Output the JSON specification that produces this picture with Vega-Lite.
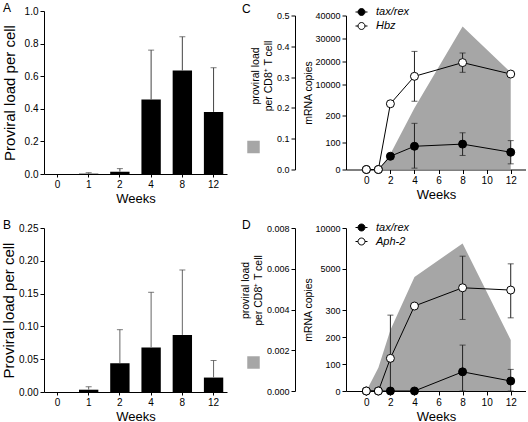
{
  "$schema": "https://vega.github.io/schema/vega-lite/v6.json",
  "padding": {"left": 1, "top": 1, "right": 0, "bottom": 0},
  "background": "white",
  "config": {
    "font": "Liberation Sans",
    "view": {"stroke": null},
    "axis": {"grid": false, "domainColor": "black", "tickColor": "black", "labelColor": "black", "titleColor": "black", "titleFontWeight": "normal", "labelFontSize": 10, "tickSize": 4, "labelPadding": 2, "domainWidth": 1, "tickWidth": 1, "labelOverlap": false, "labelFlush": false},
    "title": {"fontWeight": "normal", "fontSize": 12, "anchor": "start", "frame": "group", "baseline": "alphabetic", "color": "black"},
    "legend": {"padding": 0}
  },
  "resolve": {"scale": {"fill": "independent", "color": "independent"}, "legend": {"fill": "independent", "color": "independent"}},
  "bounds": "flush",
  "center": true,
  "spacing": {"row": 54, "column": 119},
  "columns": 2,
  "concat": [
        {
          "width": 183, "height": 163,
          "title": {"text": "A", "offset": -8.7, "dx": -41},
          "data": {"values": [
            {"week": 0, "load": 0, "err": null},
            {"week": 1, "load": 0.002, "err": 0.008},
            {"week": 2, "load": 0.014, "err": 0.033},
            {"week": 4, "load": 0.457, "err": 0.76},
            {"week": 8, "load": 0.635, "err": 0.842},
            {"week": 12, "load": 0.381, "err": 0.652}
          ]},
          "encoding": {"x": {"field": "week", "type": "ordinal", "scale": {"paddingInner": 0.38, "paddingOuter": 0.12}, "axis": {"title": "Weeks", "labelAngle": 0, "titleFontSize": 13, "titlePadding": 3, "tickSize": 3}}},
          "layer": [
            {"mark": {"type": "bar", "color": "black"}, "encoding": {"y": {"field": "load", "type": "quantitative", "scale": {"domain": [0, 1], "nice": false}, "axis": {"title": "Proviral load per cell", "values": [0, 0.2, 0.4, 0.6, 0.8, 1], "tickCount": 50, "format": ".1f", "titleFontSize": 15, "titlePadding": 7}}}},
            {"transform": [{"filter": "datum.err != null"}], "mark": {"type": "rule", "color": "#444"}, "encoding": {"y": {"field": "load", "type": "quantitative", "axis": {"title": "Proviral load per cell", "values": [0, 0.2, 0.4, 0.6, 0.8, 1], "tickCount": 50, "format": ".1f", "titleFontSize": 15, "titlePadding": 7}}, "y2": {"field": "err"}}},
            {"transform": [{"filter": "datum.err != null"}], "mark": {"type": "tick", "color": "#444", "size": 6, "thickness": 1}, "encoding": {"y": {"field": "err", "type": "quantitative", "axis": {"title": "Proviral load per cell", "values": [0, 0.2, 0.4, 0.6, 0.8, 1], "tickCount": 50, "format": ".1f", "titleFontSize": 15, "titlePadding": 7}}}}
          ]
        },
        {
          "width": 180, "height": 154,
          "title": {"text": "C", "offset": -10, "dx": -104},
          "resolve": {"scale": {"y": "independent"}},
          "layer": [
            {
              "data": {"values": [
                {"week": 0, "load": 0}, {"week": 1, "load": 0}, {"week": 2, "load": 0.05},
                {"week": 4, "load": 0.2}, {"week": 8, "load": 0.464}, {"week": 12, "load": 0.315}
              ]},
              "mark": {"type": "area", "opacity": 1},
              "encoding": {
                "x": {"field": "week", "type": "quantitative", "scale": {"domain": [-1.69, 13.27], "nice": false, "zero": false}, "axis": {"title": "Weeks", "values": [0, 2, 4, 6, 8, 10, 12], "tickCount": 50, "format": "d", "titleFontSize": 13, "titlePadding": 3}},
                "y": {"field": "load", "type": "quantitative", "scale": {"domain": [0, 0.5], "nice": false}, "axis": {"orient": "left", "offset": 51, "values": [0, 0.1, 0.2, 0.3, 0.4, 0.5], "tickCount": 50, "format": ".1f", "labelFontSize": 9, "title": ["proviral load", "per CD8⁺ T cell"], "titleFontSize": 10.5, "titleY": 60, "titlePadding": 3}},
                "color": {"datum": "proviral", "scale": {"range": ["#a6a6a6"]}, "legend": {"orient": "none", "legendX": -99, "legendY": 125, "title": null, "symbolType": "square", "symbolSize": 156, "labelExpr": "''", "labelFontSize": 8, "symbolOpacity": 1, "symbolStrokeWidth": 0}}
              }
            },
            {
              "data": {"values": [
                {"gene": "tax/rex", "week": 0, "v": 0},
                {"gene": "tax/rex", "week": 1, "v": 0},
                {"gene": "tax/rex", "week": 2, "v": 49},
                {"gene": "tax/rex", "week": 4, "v": 86, "lo": 5, "hi": 171},
                {"gene": "tax/rex", "week": 8, "v": 94, "lo": 52, "hi": 136},
                {"gene": "tax/rex", "week": 12, "v": 64, "lo": 21, "hi": 107},
                {"gene": "Hbz", "week": 0, "v": 0},
                {"gene": "Hbz", "week": 1, "v": 0},
                {"gene": "Hbz", "week": 2, "v": 1400},
                {"gene": "Hbz", "week": 4, "v": 13400, "lo": 2500, "hi": 24300},
                {"gene": "Hbz", "week": 8, "v": 19400, "lo": 15150, "hi": 23600},
                {"gene": "Hbz", "week": 12, "v": 14400}
              ]},
              "encoding": {"x": {"field": "week", "type": "quantitative", "axis": {"title": "Weeks", "values": [0, 2, 4, 6, 8, 10, 12], "tickCount": 50, "format": "d", "titleFontSize": 13, "titlePadding": 3}}},
              "layer": [
                {"transform": [{"filter": "datum.hi != null"}], "mark": {"type": "rule", "color": "#222"},
                 "encoding": {"y": {"field": "lo", "type": "quantitative", "scale": {"domain": [0, 200, 200.01, 40000], "range": [154, 100, 91, 0], "nice": false, "zero": false}, "axis": {"orient": "left", "title": "mRNA copies", "values": [0, 100, 200, 10000, 20000, 30000, 40000], "tickCount": 50, "format": "d", "labelFontSize": 9, "titleFontSize": 10.5, "titlePadding": 1}}, "y2": {"field": "hi"}}},
                {"transform": [{"filter": "datum.hi != null"}], "mark": {"type": "tick", "color": "#222", "orient": "horizontal", "size": 6, "thickness": 1},
                 "encoding": {"y": {"field": "hi", "type": "quantitative", "scale": {"domain": [0, 200, 200.01, 40000], "range": [154, 100, 91, 0], "nice": false, "zero": false}, "axis": {"orient": "left", "title": "mRNA copies", "values": [0, 100, 200, 10000, 20000, 30000, 40000], "tickCount": 50, "format": "d", "labelFontSize": 9, "titleFontSize": 10.5, "titlePadding": 1}}}},
                {"transform": [{"filter": "datum.hi != null"}], "mark": {"type": "tick", "color": "#222", "orient": "horizontal", "size": 6, "thickness": 1},
                 "encoding": {"y": {"field": "lo", "type": "quantitative", "scale": {"domain": [0, 200, 200.01, 40000], "range": [154, 100, 91, 0], "nice": false, "zero": false}, "axis": {"orient": "left", "title": "mRNA copies", "values": [0, 100, 200, 10000, 20000, 30000, 40000], "tickCount": 50, "format": "d", "labelFontSize": 9, "titleFontSize": 10.5, "titlePadding": 1}}}},
                {"mark": {"type": "line", "color": "black", "strokeWidth": 1},
                 "encoding": {"detail": {"field": "gene"}, "y": {"field": "v", "type": "quantitative", "scale": {"domain": [0, 200, 200.01, 40000], "range": [154, 100, 91, 0], "nice": false, "zero": false}, "axis": {"orient": "left", "title": "mRNA copies", "values": [0, 100, 200, 10000, 20000, 30000, 40000], "tickCount": 50, "format": "d", "labelFontSize": 9, "titleFontSize": 10.5, "titlePadding": 1}}}},
                {"mark": {"type": "point", "filled": true, "stroke": "black", "strokeWidth": 1, "size": 64, "opacity": 1},
                 "encoding": {
                   "y": {"field": "v", "type": "quantitative", "scale": {"domain": [0, 200, 200.01, 40000], "range": [154, 100, 91, 0], "nice": false, "zero": false}, "axis": {"orient": "left", "title": "mRNA copies", "values": [0, 100, 200, 10000, 20000, 30000, 40000], "tickCount": 50, "format": "d", "labelFontSize": 9, "titleFontSize": 10.5, "titlePadding": 1}},
                   "fill": {"field": "gene", "type": "nominal", "scale": {"domain": ["tax/rex", "Hbz"], "range": ["black", "white"]},
                     "legend": {"orient": "none", "legendX": 9, "legendY": -10, "title": null, "labelFontSize": 11, "labelFontStyle": "italic", "labelOffset": 8, "rowPadding": 2, "symbolSize": 144, "symbolStrokeColor": "black", "symbolStrokeWidth": 1,
                       "symbolType": "M-1,0L-0.58,0M0.58,0L1,0M-0.58,0A0.58,0.58,0,1,0,0.58,0A0.58,0.58,0,1,0,-0.58,0Z",
                       "encode": {"symbols": {"update": {"shape": {"value": "M-1,0L-0.58,0M0.58,0L1,0M-0.58,0A0.58,0.58,0,1,0,0.58,0A0.58,0.58,0,1,0,-0.58,0Z"}, "stroke": {"value": "black"}, "strokeWidth": {"value": 1}, "opacity": {"value": 1}}}}}}
                 }}
              ]
            }
          ]
        },
        {
          "width": 183, "height": 164,
          "title": {"text": "B", "offset": -9, "dx": -41},
          "data": {"values": [
            {"week": 0, "load": 0, "err": null},
            {"week": 1, "load": 0.0035, "err": 0.008},
            {"week": 2, "load": 0.044, "err": 0.095},
            {"week": 4, "load": 0.068, "err": 0.152},
            {"week": 8, "load": 0.087, "err": 0.186},
            {"week": 12, "load": 0.022, "err": 0.048}
          ]},
          "encoding": {"x": {"field": "week", "type": "ordinal", "scale": {"paddingInner": 0.38, "paddingOuter": 0.12}, "axis": {"title": "Weeks", "labelAngle": 0, "titleFontSize": 13, "titlePadding": 3, "tickSize": 3}}},
          "layer": [
            {"mark": {"type": "bar", "color": "black"}, "encoding": {"y": {"field": "load", "type": "quantitative", "scale": {"domain": [0, 0.25], "nice": false}, "axis": {"title": "Proviral load per cell", "values": [0, 0.05, 0.1, 0.15, 0.2, 0.25], "tickCount": 50, "format": ".2f", "titleFontSize": 15, "titlePadding": 2}}}},
            {"transform": [{"filter": "datum.err != null"}], "mark": {"type": "rule", "color": "#666"}, "encoding": {"y": {"field": "load", "type": "quantitative", "axis": {"title": "Proviral load per cell", "values": [0, 0.05, 0.1, 0.15, 0.2, 0.25], "tickCount": 50, "format": ".2f", "titleFontSize": 15, "titlePadding": 2}}, "y2": {"field": "err"}}},
            {"transform": [{"filter": "datum.err != null"}], "mark": {"type": "tick", "color": "#444", "size": 6, "thickness": 1}, "encoding": {"y": {"field": "err", "type": "quantitative", "axis": {"title": "Proviral load per cell", "values": [0, 0.05, 0.1, 0.15, 0.2, 0.25], "tickCount": 50, "format": ".2f", "titleFontSize": 15, "titlePadding": 2}}}}
          ]
        },
        {
          "width": 180, "height": 163,
          "title": {"text": "D", "offset": -10.8, "dx": -104},
          "resolve": {"scale": {"y": "independent"}},
          "layer": [
            {
              "data": {"values": [
                {"week": 0, "load": 0}, {"week": 1, "load": 0.00114}, {"week": 2, "load": 0.003},
                {"week": 4, "load": 0.0056}, {"week": 8, "load": 0.00724}, {"week": 12, "load": 0.0025}
              ]},
              "mark": {"type": "area", "opacity": 1},
              "encoding": {
                "x": {"field": "week", "type": "quantitative", "scale": {"domain": [-1.69, 13.27], "nice": false, "zero": false}, "axis": {"title": "Weeks", "values": [0, 2, 4, 6, 8, 10, 12], "tickCount": 50, "format": "d", "titleFontSize": 13, "titlePadding": 3}},
                "y": {"field": "load", "type": "quantitative", "scale": {"domain": [0, 0.008], "nice": false}, "axis": {"orient": "left", "offset": 51, "values": [0, 0.002, 0.004, 0.006, 0.008], "tickCount": 50, "format": ".3f", "labelFontSize": 9, "title": ["proviral load", "per CD8⁺ T cell"], "titleFontSize": 10.5, "titleY": 62, "titlePadding": 3}},
                "color": {"datum": "proviral", "scale": {"range": ["#a6a6a6"]}, "legend": {"orient": "none", "legendX": -99, "legendY": 128, "title": null, "symbolType": "square", "symbolSize": 156, "labelExpr": "''", "labelFontSize": 8, "symbolOpacity": 1, "symbolStrokeWidth": 0}}
              }
            },
            {
              "data": {"values": [
                {"gene": "tax/rex", "week": 0, "v": 0},
                {"gene": "tax/rex", "week": 1, "v": 0},
                {"gene": "tax/rex", "week": 2, "v": 0},
                {"gene": "tax/rex", "week": 4, "v": 0},
                {"gene": "tax/rex", "week": 8, "v": 71, "lo": 0, "hi": 170},
                {"gene": "tax/rex", "week": 12, "v": 37, "lo": 0, "hi": 80},
                {"gene": "Aph-2", "week": 0, "v": 0},
                {"gene": "Aph-2", "week": 1, "v": 0},
                {"gene": "Aph-2", "week": 2, "v": 121, "lo": 0, "hi": 281},
                {"gene": "Aph-2", "week": 4, "v": 420},
                {"gene": "Aph-2", "week": 8, "v": 2660, "lo": 265, "hi": 6540},
                {"gene": "Aph-2", "week": 12, "v": 2380, "lo": 271, "hi": 5600}
              ]},
              "encoding": {"x": {"field": "week", "type": "quantitative", "axis": {"title": "Weeks", "values": [0, 2, 4, 6, 8, 10, 12], "tickCount": 50, "format": "d", "titleFontSize": 13, "titlePadding": 3}}},
              "layer": [
                {"transform": [{"filter": "datum.hi != null"}], "mark": {"type": "rule", "color": "#222"},
                 "encoding": {"y": {"field": "lo", "type": "quantitative", "scale": {"domain": [0, 300, 300.01, 10000], "range": [163, 82, 79, 0], "nice": false, "zero": false}, "axis": {"orient": "left", "title": "mRNA copies", "values": [0, 100, 200, 300, 5000, 10000], "tickCount": 50, "format": "d", "labelFontSize": 9, "titleFontSize": 10.5, "titlePadding": 1}}, "y2": {"field": "hi"}}},
                {"transform": [{"filter": "datum.hi != null"}], "mark": {"type": "tick", "color": "#222", "orient": "horizontal", "size": 6, "thickness": 1},
                 "encoding": {"y": {"field": "hi", "type": "quantitative", "scale": {"domain": [0, 300, 300.01, 10000], "range": [163, 82, 79, 0], "nice": false, "zero": false}, "axis": {"orient": "left", "title": "mRNA copies", "values": [0, 100, 200, 300, 5000, 10000], "tickCount": 50, "format": "d", "labelFontSize": 9, "titleFontSize": 10.5, "titlePadding": 1}}}},
                {"transform": [{"filter": "datum.hi != null"}], "mark": {"type": "tick", "color": "#222", "orient": "horizontal", "size": 6, "thickness": 1},
                 "encoding": {"y": {"field": "lo", "type": "quantitative", "scale": {"domain": [0, 300, 300.01, 10000], "range": [163, 82, 79, 0], "nice": false, "zero": false}, "axis": {"orient": "left", "title": "mRNA copies", "values": [0, 100, 200, 300, 5000, 10000], "tickCount": 50, "format": "d", "labelFontSize": 9, "titleFontSize": 10.5, "titlePadding": 1}}}},
                {"mark": {"type": "line", "color": "black", "strokeWidth": 1},
                 "encoding": {"detail": {"field": "gene"}, "y": {"field": "v", "type": "quantitative", "scale": {"domain": [0, 300, 300.01, 10000], "range": [163, 82, 79, 0], "nice": false, "zero": false}, "axis": {"orient": "left", "title": "mRNA copies", "values": [0, 100, 200, 300, 5000, 10000], "tickCount": 50, "format": "d", "labelFontSize": 9, "titleFontSize": 10.5, "titlePadding": 1}}}},
                {"mark": {"type": "point", "filled": true, "stroke": "black", "strokeWidth": 1, "size": 64, "opacity": 1},
                 "encoding": {
                   "y": {"field": "v", "type": "quantitative", "scale": {"domain": [0, 300, 300.01, 10000], "range": [163, 82, 79, 0], "nice": false, "zero": false}, "axis": {"orient": "left", "title": "mRNA copies", "values": [0, 100, 200, 300, 5000, 10000], "tickCount": 50, "format": "d", "labelFontSize": 9, "titleFontSize": 10.5, "titlePadding": 1}},
                   "fill": {"field": "gene", "type": "nominal", "scale": {"domain": ["tax/rex", "Aph-2"], "range": ["black", "white"]},
                     "legend": {"orient": "none", "legendX": 9, "legendY": -7, "title": null, "labelFontSize": 11, "labelFontStyle": "italic", "labelOffset": 8, "rowPadding": 2, "symbolSize": 144, "symbolStrokeColor": "black", "symbolStrokeWidth": 1,
                       "symbolType": "M-1,0L-0.58,0M0.58,0L1,0M-0.58,0A0.58,0.58,0,1,0,0.58,0A0.58,0.58,0,1,0,-0.58,0Z",
                       "encode": {"symbols": {"update": {"shape": {"value": "M-1,0L-0.58,0M0.58,0L1,0M-0.58,0A0.58,0.58,0,1,0,0.58,0A0.58,0.58,0,1,0,-0.58,0Z"}, "stroke": {"value": "black"}, "strokeWidth": {"value": 1}, "opacity": {"value": 1}}}}}}
                 }}
              ]
            }
          ]
        }
  ]
}
